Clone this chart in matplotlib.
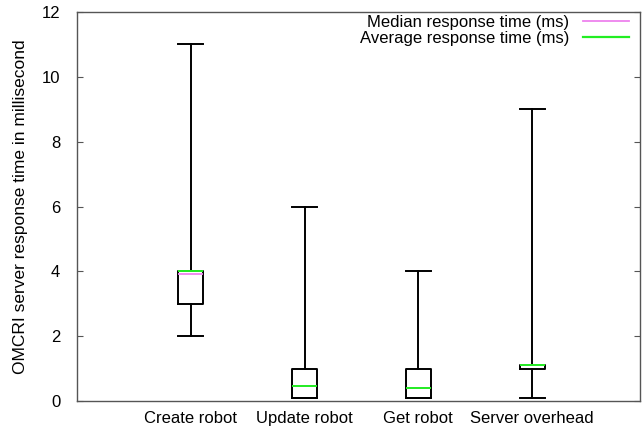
import matplotlib
matplotlib.use("Agg")
import matplotlib.pyplot as plt
from matplotlib.lines import Line2D

plt.rcParams['font.family'] = ['Liberation Sans', 'DejaVu Sans']

# values (ms)
labels = ["Create robot", "Update robot", "Get robot", "Server overhead"]
whis_lo = [2.0, 0.1, 0.1, 0.1]
q1 = [3.0, 0.1, 0.1, 1.0]
q3 = [4.0, 1.0, 1.0, 1.1]
whis_hi = [11.0, 6.0, 4.0, 9.0]
medians = [3.93, 0.47, 0.4, 1.1]
means = [4.0, 0.47, 0.4, 1.12]

stats = []
for i in range(len(labels)):
    stats.append(dict(label=labels[i], whislo=whis_lo[i], q1=q1[i], med=medians[i],
                      q3=q3[i], whishi=whis_hi[i], mean=means[i], fliers=[]))

med_color = '#ee82ee'
mean_color = '#22ee22'

fig = plt.figure(figsize=(6.42, 4.29), dpi=100)
ax = fig.add_axes([0.12, 0.065, 0.877, 0.907])

pos = [1, 2, 3, 4]
ax.bxp(stats, positions=pos, widths=0.22, capwidths=0.22, showmeans=True, meanline=True,
       boxprops=dict(color='black', linewidth=1.4),
       whiskerprops=dict(color='black', linewidth=1.4),
       capprops=dict(color='black', linewidth=1.4),
       medianprops=dict(color=med_color, linewidth=1.3),
       meanprops=dict(color=mean_color, linestyle='-', linewidth=1.4))

ax.set_xlim(0, 4.95)
ax.set_ylim(0, 12)
ax.set_yticks([0, 2, 4, 6, 8, 10, 12])
ax.set_xticks(pos)
ax.set_xticklabels(labels, fontsize=12)
ax.tick_params(axis='y', direction='in', length=4, labelsize=12, right=True,
               color='#555555', pad=12)
ax.tick_params(axis='x', length=0, pad=7)
for s in ax.spines.values():
    s.set_color('#555555')
    s.set_linewidth(1.0)
ax.set_ylabel("OMCRI server response time in millisecond", fontsize=12.5, labelpad=10)

handles = [Line2D([], [], color=med_color, lw=1.3), Line2D([], [], color=mean_color, lw=1.6)]
ax.legend(handles, ["Median response time (ms)", "Average response time (ms)"],
          loc='upper right', bbox_to_anchor=(0.99, 1.005), frameon=False, markerfirst=False,
          fontsize=12, handlelength=2.8, labelspacing=0.05, borderaxespad=0.2, borderpad=0.1)

fig.savefig("out.png", dpi=100)
